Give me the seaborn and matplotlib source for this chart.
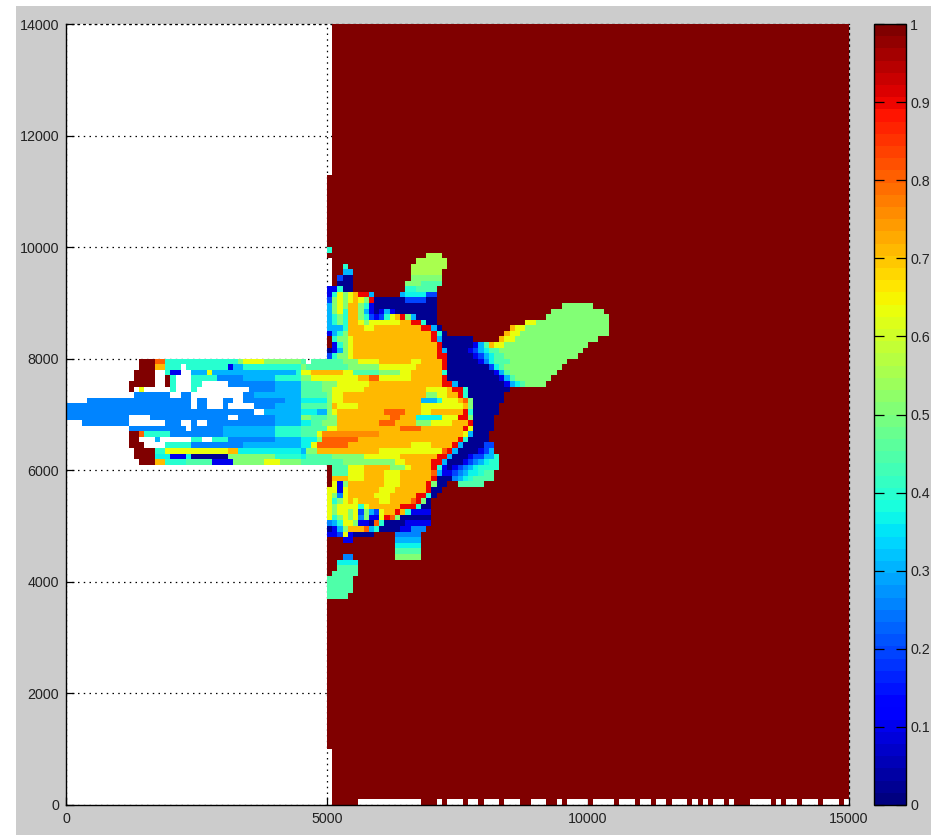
import numpy as np
import matplotlib
matplotlib.use("Agg")
import matplotlib.pyplot as plt
from matplotlib.patches import Rectangle
import seaborn as sns

# Field values on a 100-unit grid. Each row is run-length coded: "<level><first column>".
LEVELS = {'.': np.nan, '0': .02, 'a': .05, '1': .1, 'b': .15, '2': .2, 'c': .26, '3': .31, 'd': .36,
          '4': .4, 'e': .45, '5': .5, 'f': .56, '6': .63, 'g': .66, '7': .715, 'h': .75, '8': .8,
          'i': .85, '9': .9, 'R': 1.0}
UPPER_ROWS = [".0 R51"] * 27 + [".0 R50"] * 12          # y = 13900 ... 10100
CENTRE_ROWS = [
    ".0 R50",
    ".0 450 R51",
    ".0 R50 f69 R72",
    ".0 R51 f67 R73",
    ".0 R51 453 R54 f66 R73",
    ".0 R51 353 R55 f66 R72",
    ".0 R51 252 053 R55 566 R72",
    ".0 R51 052 R55 565 e68 R72",
    ".0 150 452 053 R55 465 e67 R71",
    ".0 150 451 652 553 654 755 956 358 R59 364 d65 269 R71",
    ".0 250 551 652 553 654 755 656 557 958 059 265 069 R71",
    ".0 350 551 652 553 754 556 457 158 059 R71 595 R101",
    ".0 350 551 652 453 754 556 357 158 059 160 361 162 063 R71 593 R103",
    ".0 350 451 552 453 754 556 457 258 159 260 461 662 763 964 565 366 067 R71 592 R104",
    ".0 350 451 552 453 754 656 557 658 764 966 468 069 R71 688 590 R104",
    ".0 350 351 453 754 657 759 968 370 071 R72 785 686 588 R104",
    ".0 150 351 452 553 754 970 471 072 R73 784 685 587 R104",
    ".0 R50 451 552 654 755 970 371 072 R78 783 684 586 R102",
    ".0 R50 151 452 553 654 755 971 072 178 379 e80 781 682 584 R100",
    ".0 050 151 352 553 654 755 971 372 073 177 278 379 d80 e81 583 R99",
    ".0 250 451 552 654 755 971 073 178 279 380 d81 e82 584 R98",
    ".0 R14 817 419 533 634 538 e45 .46 e47 553 656 760 666 768 972 073 179 c80 d81 e82 585 R96",
    ".0 R14 717 419 .22 423 131 332 434 437 545 e46 554 660 767 972 073 281 d82 e83 584 R95",
    ".0 R13 .17 419 120 .22 324 627 328 333 339 444 645 747 653 e55 560 664 766 472 073 182 383 e84 585 R94",
    ".0 R13 .17 R19 420 .21 424 c29 334 440 545 647 756 858 660 664 766 972 073 183 384 e85 586 R93",
    ".0 R12 .17 R19 420 .21 424 .26 c31 340 e45 549 652 758 972 374 075 184 385 d86 e87 588 R92",
    ".0 R12 .13 614 .15 420 .21 424 .25 c35 340 e45 549 651 757 669 773 974 476 077 R85",
    ".0 c13 .20 c22 .24 c34 336 e45 550 651 753 569 671 773 975 476 077 R84",
    ".0 c4 .24 c25 .27 c30 .32 c34 342 d45 550 651 753 368 471 672 775 876 577 078 R84",
    ".0 c0 .24 c25 .27 c30 .31 c36 340 e45 550 751 652 756 668 776 577 078 R83",
    ".0 c0 .36 338 d45 348 550 651 752 861 765 668 770 976 477 078 R83",
    ".0 c0 .12 c16 .31 c33 340 545 e47 550 752 862 764 d67 672 975 577 078 R82",
    ".0 c3 .12 c19 .22 c24 .25 c27 340 d45 e47 549 752 860 763 567 670 774 977 078 R82",
    ".0 c12 .23 c24 330 440 e45 650 752 864 768 976 677 078 R82",
    ".0 R12 814 415 c20 330 440 e45 648 h49 760 676 377 078 R81",
    ".0 R12 .14 317 .18 424 .26 428 c31 340 d45 548 849 756 975 476 077 R81",
    ".0 R12 .15 419 c24 334 d45 647 848 754 666 770 974 375 076 280 R82",
    ".0 R13 417 619 731 d33 345 546 748 660 872 973 374 075 179 280 381 R82",
    ".0 R13 d17 120 d23 024 531 440 d45 e46 551 657 764 971 373 074 177 278 380 482 R83",
    ".0 R14 717 419 e23 128 532 638 541 e45 553 663 765 970 372 073 176 277 c78 379 d80 481 R83",
    ".0 R50 e51 654 757 562 665 766 970 471 172 073 174 275 c76 377 d78 479 R83",
    ".0 R50 e51 654 757 661 764 870 371 172 274 c75 376 d77 479 e80 R82",
    ".0 R50 751 654 757 661 764 970 071 c74 375 d76 477 e78 R82",
    ".0 R50 651 152 553 754 661 764 969 570 071 R73 e75 R80",
    ".0 650 152 653 754 660 763 969 070 R72",
    ".0 650 551 c52 653 754 659 762 967 469 070 R71",
    ".0 650 451 552 653 754 655 756 660 762 866 967 568 069 R70",
    ".0 650 551 652 456 657 758 964 467 068 R70",
    ".0 650 551 652 554 655 256 557 358 259 660 761 963 764 465 166 R70",
    ".0 650 451 552 653 554 655 c56 557 158 660 961 862 563 064 R70",
    ".0 c50 351 452 653 555 156 058 859 460 061 165 R70",
    ".0 050 151 352 553 754 857 358 459 060 164 c66 R69",
    ".0 150 252 653 154 055 R59 c63 R68",
    ".0 R50 153 R55 363 R68",
    ".0 R50 d63 R68",
    ".0 R50 e63 R68",
    ".0 R50 c53 R55 563 R68",
    ".0 R50 d52 R56",
    ".0 R50 e52 R56",
    ".0 R50 e51 R56",
    ".0 e50 R55",
    ".0 e50 R55",
    ".0 e50 R55",
    ".0 e50 R54",
    ".0 R50",
]
LOWER_ROWS = [".0 R50"] * 26 + [".0 R51"] * 9           # y = 3500 ... 100
BOTTOM_ROW = (".0 R51 .56 R68 .71 R72 .73 R76 .77 R79 .80 R83 .84 R87 .89 R92 .93 R93 .94 R95 .96 R100 .101 "
              "R105 .106 R109 .110 R112 .113 R115 .116 R119 .120 R121 .122 R123 .124 R126 .127 R128 .131 "
              "R135 .136 R137 .138 R140 .141 R144 .145 R148 .149")
X_TICKS = [0, 5000, 10000, 15000]
Y_TICKS = [0, 2000, 4000, 6000, 8000, 10000, 12000, 14000]
CBAR_TICKS = [0, 0.1, 0.2, 0.3, 0.4, 0.5, 0.6, 0.7, 0.8, 0.9, 1]
CBAR_LABELS = ['0', '0.1', '0.2', '0.3', '0.4', '0.5', '0.6', '0.7', '0.8', '0.9', '1']


def decode(row, n=150):
    tokens = row.split()
    out = np.full(n, np.nan)
    for i, t in enumerate(tokens):
        start = int(t[1:])
        stop = int(tokens[i + 1][1:]) if i + 1 < len(tokens) else n
        out[start:stop] = LEVELS[t[0]]
    return out


rows = UPPER_ROWS + CENTRE_ROWS + LOWER_ROWS + [BOTTOM_ROW]
field = np.array([decode(r) for r in rows])
assert field.shape == (140, 150), field.shape

W, H = 931, 835
plt.rcParams['font.family'] = ['Liberation Sans', 'DejaVu Sans']
plt.rcParams['font.size'] = 10.3
fig = plt.figure(figsize=(W / 100, H / 100), dpi=100, facecolor='white')
fig.add_artist(Rectangle((16 / W, 0), 1 - 16 / W, 1 - 6 / H, transform=fig.transFigure,
                         facecolor='#cccccc', edgecolor='none', zorder=-5))


def box(l, t, r, b):
    return [l / W, 1 - b / H, (r - l) / W, (b - t) / H]


ax = fig.add_axes(box(66, 24, 849, 805), facecolor='white')
cax = fig.add_axes(box(874, 24, 906, 805))
jet64 = plt.get_cmap('jet', 64)
sns.heatmap(field, ax=ax, cbar_ax=cax, cmap=jet64, vmin=0, vmax=1, square=False,
            xticklabels=False, yticklabels=False, linewidths=0, rasterized=False,
            cbar_kws={'ticks': CBAR_TICKS})

ax.set_xticks([v / 100 for v in X_TICKS])
ax.set_xticklabels([str(v) for v in X_TICKS], rotation=0, color='#222222')
ax.set_yticks([(14000 - v) / 100 for v in Y_TICKS])
ax.set_yticklabels([str(v) for v in Y_TICKS], rotation=0, color='#222222')
ax.tick_params(axis='both', direction='in', length=5.5, width=0.9, color='black', pad=5)
ax.grid(True, color='black', linewidth=0.9, linestyle=(0, (1.2, 3.4)))
ax.set_axisbelow(True)
for name, spine in ax.spines.items():
    spine.set_visible(True)
    spine.set_color('black')
    if name in ('top', 'right'):
        spine.set_linewidth(0.9)
        spine.set_linestyle((0, (1.2, 3.4)))
        spine.set_zorder(0.6)
    else:
        spine.set_linewidth(1.0)

cb = ax.collections[0].colorbar
cb.set_ticks(CBAR_TICKS)
cb.set_ticklabels(CBAR_LABELS)
cb.outline.set_visible(True)
cb.outline.set_edgecolor('black')
cb.outline.set_linewidth(1.0)
cax.tick_params(axis='y', direction='in', length=7, width=0.9, left=True, right=True,
                labelright=True, pad=3, labelcolor='#222222')

fig.savefig('out.png', dpi=100)
